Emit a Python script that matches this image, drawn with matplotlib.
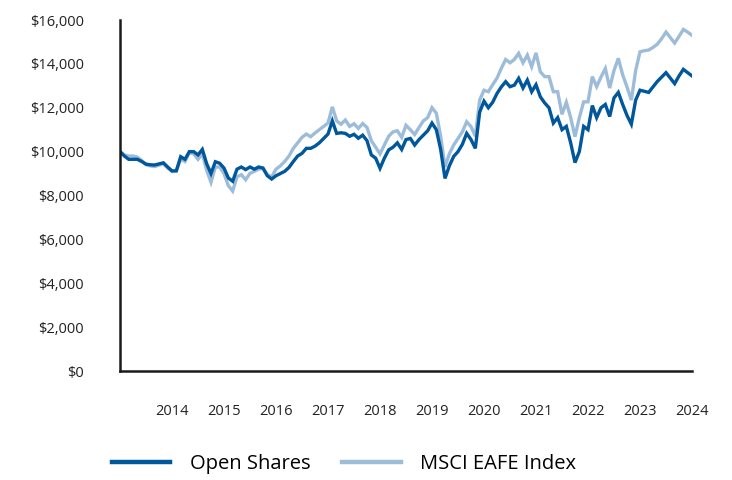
#!/usr/bin/env python3

import numpy as np
import matplotlib
matplotlib.use('Agg')
import matplotlib.pyplot as plt
from matplotlib.ticker import FuncFormatter

# monthly values, first month = 2013.0 on the axis
open_shares = [
    10000, 9800, 9650, 9650, 9650, 9550, 9430, 9400, 9390, 9440, 9490, 9300,
    9120, 9120, 9770, 9650, 10000, 10000, 9850, 10100, 9450, 9000, 9540, 9470,
    9250, 8800, 8650, 9200, 9300, 9180, 9300, 9200, 9300, 9250, 8900, 8750,
    8900, 9000, 9100, 9280, 9550, 9800, 9920, 10150, 10150, 10250, 10400, 10600,
    10800, 11400, 10830, 10860, 10830, 10700, 10790, 10610, 10750, 10500, 9850, 9700,
    9240, 9700, 10080, 10200, 10400, 10100, 10550, 10600, 10300, 10550, 10750, 10950,
    11300, 11000, 10100, 8780, 9350, 9780, 10000, 10330, 10830, 10550, 10150, 11800,
    12300, 12000, 12250, 12650, 12950, 13190, 12960, 13030, 13340, 12900, 13260, 12730,
    13050, 12500, 12220, 12000, 11300, 11550, 11000, 11150, 10400, 9500, 10000, 11150,
    11000, 12100, 11550, 12000, 12150, 11600, 12450, 12700, 12150, 11650, 11250, 12350,
    12800, 12750, 12700, 12950, 13200, 13400, 13600, 13350, 13100, 13450, 13750, 13600,
    13450,
]
msci_eafe = [
    10000, 9850, 9800, 9800, 9750, 9600, 9400, 9350, 9320, 9380, 9450, 9250,
    9100, 9150, 9650, 9550, 9950, 9900, 9650, 9900, 9150, 8600, 9300, 9300,
    9000, 8450, 8200, 8850, 8950, 8720, 9010, 9100, 9200, 9240, 8950, 8850,
    9200, 9350, 9550, 9800, 10150, 10400, 10650, 10800, 10680, 10850, 11000, 11150,
    11300, 12040, 11400, 11250, 11440, 11150, 11270, 11060, 11280, 11100, 10500, 10200,
    9900, 10300, 10700, 10900, 10950, 10650, 11200, 11000, 10780, 11100, 11400, 11550,
    12000, 11750, 10700, 9300, 9900, 10300, 10600, 10900, 11360, 11140, 10700, 12350,
    12800, 12730, 13050, 13350, 13800, 14200, 14050, 14200, 14480, 14050, 14400, 13870,
    14500, 13640, 13420, 13420, 12730, 12730, 11700, 12250, 11550, 10680, 11550, 12270,
    12270, 13420, 12960, 13400, 13790, 12900, 13700, 14250, 13500, 12950, 12350, 13700,
    14550, 14600, 14630, 14750, 14900, 15150, 15450, 15200, 14950, 15250, 15570, 15450,
    15300,
]
year_ticks = list(range(2014, 2025))
series_names = ['Open Shares', 'MSCI EAFE Index']

DARK = '#00579c'
LIGHT = '#9dbcda'


def main():
    plt.rcParams['font.family'] = ['Open Sans', 'DejaVu Sans']

    fig = plt.figure(figsize=(7.32, 4.8), dpi=100)
    ax = fig.add_axes([120 / 732, 1 - 371 / 480, 572 / 732, 351 / 480])

    x = 2013 + np.arange(len(open_shares)) / 12.0
    ax.plot(x, msci_eafe, color=LIGHT, lw=2.4, label=series_names[1],
            solid_joinstyle='miter')
    ax.plot(x, open_shares, color=DARK, lw=2.4, label=series_names[0],
            solid_joinstyle='miter')

    ax.set_xlim(2013, 2024)
    ax.set_ylim(0, 16000)
    ax.set_xticks(year_ticks)
    ax.set_xticklabels([str(y) for y in year_ticks])
    ax.set_yticks(np.arange(0, 16001, 2000))
    ax.yaxis.set_major_formatter(FuncFormatter(lambda v, p: '${:,.0f}'.format(v)))
    ax.tick_params(axis='both', length=0, labelsize=10.5, colors='#222222')
    ax.tick_params(axis='x', pad=24)
    ax.tick_params(axis='y', pad=26)

    for side in ('top', 'right'):
        ax.spines[side].set_visible(False)
    for side in ('left', 'bottom'):
        ax.spines[side].set_linewidth(1.8)
        ax.spines[side].set_color('#1a1a1a')

    handles, labels = ax.get_legend_handles_labels()
    leg = fig.legend(handles[::-1], labels[::-1], loc='center',
                     bbox_to_anchor=(344 / 732, 1 - 464 / 480), ncol=2,
                     frameon=False, fontsize=14.5, handlelength=2.9,
                     handletextpad=0.95, columnspacing=1.6)
    for line in leg.get_lines():
        line.set_linewidth(3.2)

    fig.savefig('out.png', dpi=100)


if __name__ == '__main__':
    main()
